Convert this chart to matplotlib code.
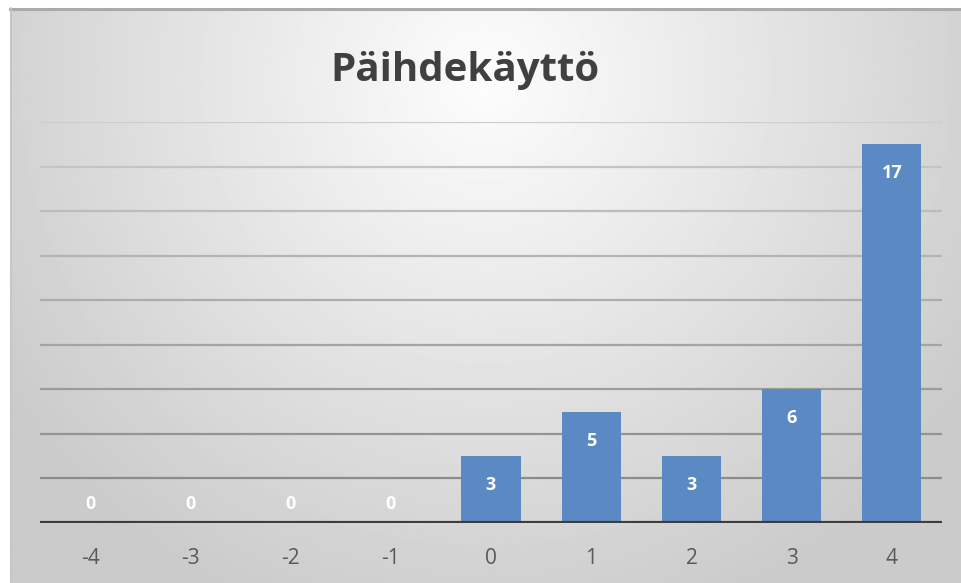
import numpy as np
import matplotlib.pyplot as plt

# category scores and how many answers fell on each
categories = ['-4', '-3', '-2', '-1', '0', '1', '2', '3', '4']
counts = [0, 0, 0, 0, 3, 5, 3, 6, 17]
title = 'Päihdekäyttö'

fig = plt.figure(figsize=(9.62, 5.83), dpi=100, facecolor='white')

# radial grey background of the chart area
bg = fig.add_axes([10 / 962, 0, 952 / 962, 575 / 583])
xx, yy = np.meshgrid(np.linspace(0, 1, 480), np.linspace(0, 1, 300))
d = np.sqrt(((xx - 0.5) / 0.6) ** 2 + ((yy - 0.12) / 1.0) ** 2)
shade = 253 - 50 * np.clip(d, 0, 1)
bg.imshow(shade, cmap='gray', vmin=0, vmax=255, aspect='auto',
          extent=(0, 1, 1, 0), interpolation='bilinear')
bg.set_xlim(0, 1)
bg.set_ylim(1, 0)
bg.axis('off')
bg.plot([0, 1], [0.002, 0.002], color='#aaaaaa', lw=2.2, clip_on=False)
bg.plot([0.001, 0.001], [0, 1], color='#c4c4c4', lw=1.2, clip_on=False)

ax = fig.add_axes([40 / 962, 60 / 583, 902 / 962, 401 / 583])
ax.patch.set_alpha(0)
x = np.arange(len(categories))

# gridlines get darker towards the bottom
ticks = np.arange(2, 19, 2)
for t in ticks:
    g = int(205 - (18 - t) / 16 * 65)
    ax.axhline(t, color='#%02x%02x%02x' % (g, g, g), lw=1.6, zorder=0)

bars = ax.bar(x, counts, width=0.59, color='#5b89c3', zorder=2)
ax.axhline(0, color='#3d3d3d', lw=3, zorder=3)

for xi, v in zip(x, counts):
    ax.text(xi, v - 1.3 if v > 0 else 0.85, str(v), ha='center', va='center',
            color='white', fontsize=13, fontweight='bold', family='Open Sans',
            zorder=4)

ax.set_xlim(-0.5, len(categories) - 0.5)
ax.set_ylim(0, 18)
ax.set_xticks(x)
ax.set_xticklabels(categories, fontsize=15, color='#595959', family='Open Sans')
ax.tick_params(axis='x', length=0, pad=18)
ax.set_yticks([])
for s in ax.spines.values():
    s.set_visible(False)

fig.text(465 / 962, 1 - 70 / 583, title, ha='center', va='center',
         fontsize=29, fontweight='bold', color='#404040', family='Open Sans')

fig.savefig('out.png', dpi=100)
